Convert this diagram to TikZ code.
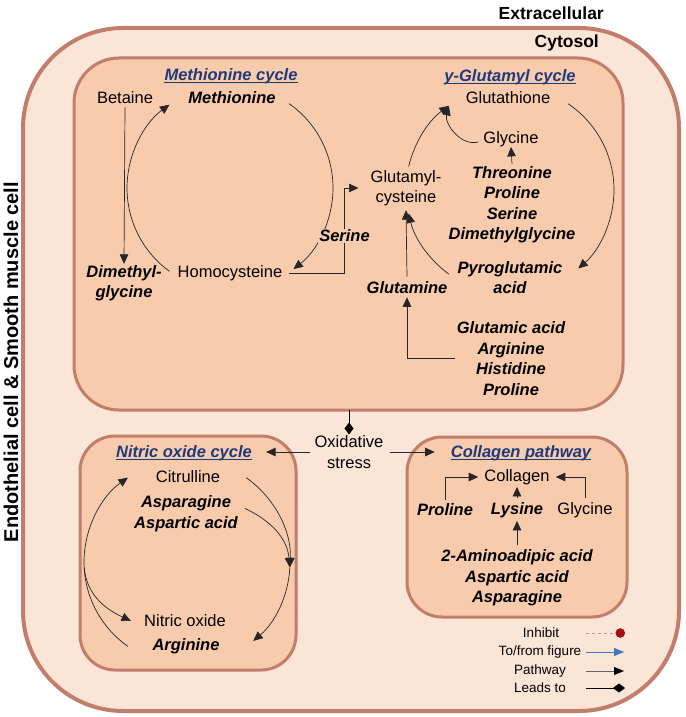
\documentclass[tikz,border=0pt]{standalone}
\usepackage{fontspec}
\setmainfont{Liberation Sans}
\usepackage{xcolor}
\usepackage{tikz}
\usetikzlibrary{arrows.meta, positioning, calc}

\definecolor{cellfill}{HTML}{FBE5D6}
\definecolor{boxfill}{HTML}{F8CBAD}
\definecolor{boxline}{HTML}{C27E6B}
\definecolor{titleblue}{HTML}{1F3A7A}
\definecolor{inhred}{HTML}{A50E0E}
\definecolor{inhdash}{HTML}{D9888A}
\definecolor{figblue}{HTML}{4472C4}

\tikzset{
    txt/.style={inner sep=0pt, align=center, font=\fontsize{16.5}{20.5}\selectfont},
    met/.style={txt, font=\fontsize{16.5}{20.5}\selectfont\bfseries\itshape},
    ttl/.style={inner sep=0pt, text=titleblue, font=\fontsize{16.5}{20.5}\selectfont\bfseries\itshape},
    uline/.style={draw=titleblue, line width=1.2pt},
    room/.style={draw=boxline, line width=3pt, fill=boxfill, rounded corners=45pt},
    flow/.style={draw=black!85, line width=0.7pt, -{Triangle[length=9.5pt,width=8.5pt]}},
    lead/.style={draw=black, line width=0.7pt, -{Diamond[length=12pt,width=9pt]}},
    key/.style={inner sep=0pt, font=\fontsize{13.5}{16}\selectfont},
    zone/.style={inner sep=0pt, font=\fontsize{17.5}{20}\selectfont\bfseries},
}

\begin{document}
\begin{tikzpicture}[x=1pt, y=1pt]
        \useasboundingbox (0,0) rectangle (685,-717);

        \draw[draw=boxline, line width=4pt, fill=cellfill, rounded corners=100pt] (23,-28) rectangle (679,-711);% Cell
        \draw[room] (74,-58) rectangle (623,-410);% Methionine and glutamyl cycles
        \draw[room, rounded corners=35pt] (80,-436) rectangle (296,-670);% Nitric oxide cycle
        \draw[room, rounded corners=35pt] (407,-437) rectangle (627,-617);% Collagen pathway

        \node[zone, anchor=east] (exc) at (604,-13) {Extracellular};
        \node[zone, anchor=east] (cyt) at (599,-43) {Cytosol};
        \node[zone, rotate=90, font=\fontsize{20}{22}\selectfont\bfseries] (cell) at (11,-362) {Endothelial cell \& Smooth muscle cell};

        % Methionine cycle
        \node[ttl] (metT) at (231,-76) {Methionine cycle};
        \node[txt] (bet) at (125,-98) {Betaine};
        \node[met] (meth) at (232,-98) {Methionine};
        \node[met] (dmg) at (124,-283) {Dimethyl-\\glycine};
        \node[txt] (hcy) at (230,-273) {Homocysteine};
        \coordinate (mc) at (230,-188);

        % gamma-glutamyl cycle
        \node[ttl] (gluT) at (510,-77) {y-Glutamyl cycle};
        \node[txt] (gsh) at (508,-98) {Glutathione};
        \node[txt] (gly) at (511,-139) {Glycine};
        \node[met] (gpre) at (512,-204.5) {Threonine\\Proline\\Serine\\Dimethylglycine};
        \node[txt] (gc) at (406,-188) {Glutamyl-\\cysteine};
        \node[met] (pyro) at (510,-277.5) {Pyroglutamic\\acid};
        \node[met] (gln) at (407,-288) {Glutamine};
        \node[met] (gpre2) at (511,-358.5) {Glutamic acid\\Arginine\\Histidine\\Proline};
        \coordinate (gcc) at (510,-190);

        \draw[flow] ([yshift=-3pt]bet.south) -- ([yshift=1pt]dmg.north);
        \draw[flow] ($(mc)+(55:103)$) arc[start angle=55, end angle=-52, radius=103];% Methionine to Homocysteine
        \draw[flow] ($(mc)+(234:103)$) arc[start angle=234, end angle=126, radius=103];% Homocysteine to Methionine
        \draw[flow] ([xshift=7pt]hcy.east) -- ++(55,0) |- node[met, pos=0.22, fill=boxfill, inner sep=1pt] (ser) {Serine} ([xshift=-12pt]gc.west);

        \draw[flow] ($(gcc)+(56:104)$) arc[start angle=56, end angle=-49, radius=104];% Glutathione to Pyroglutamic acid
        \draw[flow] ($(gcc)+(167:104)$) arc[start angle=167, end angle=126, radius=104];
        \draw[flow] ($(gcc)+(234:104)$) arc[start angle=234, end angle=193, radius=104];
        \draw[flow] ([xshift=-5pt,yshift=-3pt]gly.west) to[out=195, in=-105] ($(gcc)+(126:104)$);
        \draw[flow] ([yshift=2pt]gpre.north) -- (gly.south);
        \draw[flow] ([yshift=5pt]gln.north) -- ([yshift=-4pt]gc.south);
        \draw[flow] ([xshift=-2pt]gpre2.west) -| ([yshift=-3pt]gln.south);

        % Oxidative stress
        \node[txt] (ox) at (349,-452) {Oxidative\\stress};
        \coordinate (mb) at (349,-410);
        \draw[lead] (mb) -- ([yshift=1pt]ox.north);

        % Nitric oxide cycle
        \node[ttl] (noT) at (184,-453) {Nitric oxide cycle};
        \node[txt] (cit) at (188,-477) {Citrulline};
        \node[met] (asp) at (186,-513.5) {Asparagine\\Aspartic acid};
        \node[txt] (no) at (185,-621) {Nitric oxide};
        \node[met] (arg) at (186,-646) {Arginine};
        \coordinate (nc) at (187,-562);
        \coordinate (nr) at ($(nc)+(-3:103)$);
        \coordinate (nl) at ($(nc)+(183:103)$);

        \draw[flow] ($(nc)+(55:103)$) arc[start angle=55, end angle=-3, radius=103];% Citrulline
        \draw[flow] (nr) arc[start angle=-3, end angle=-50, radius=103];% to Arginine
        \draw[flow] ([shift={(7pt,5pt)}]asp.east) to[out=-25, in=95] (nr);
        \draw[flow] ($(nc)+(235:103)$) arc[start angle=235, end angle=125, radius=103];% Arginine to Citrulline
        \draw[flow] (nl) to[out=-85, in=155] ([xshift=-13pt]no.west);

        % Collagen pathway
        \node[ttl] (colT) at (521,-453) {Collagen pathway};
        \node[txt] (col) at (517,-477) {Collagen};
        \node[met] (pro) at (445,-510) {Proline};
        \node[met] (lys) at (517,-510) {Lysine};
        \node[txt] (glyc) at (585,-510) {Glycine};
        \node[met] (cpre) at (517,-578) {2-Aminoadipic acid\\Aspartic acid\\Asparagine};

        \draw[flow] ([yshift=4pt]pro.north) |- ([xshift=-6pt]col.west);
        \draw[flow] ([yshift=4pt]glyc.north) |- ([xshift=6pt]col.east);
        \draw[flow] ([yshift=4pt]lys.north) -- ([yshift=-2pt]col.south);
        \draw[flow] ([yshift=5pt]cpre.north) -- ([yshift=-3pt]lys.south);

        \draw[flow] ([xshift=-4pt]ox.west) -- ($(noT.east |- ox.west)+(14,0)$);
        \draw[flow] ([xshift=6pt]ox.east) -- ($(colT.west |- ox.east)+(-16,0)$);

        % title underlines
        \foreach \t in {metT, gluT, noT, colT}
            \draw[uline] ([yshift=-2.5pt]\t.base west) -- ([yshift=-2.5pt]\t.base east);

        % Legend
        \node[key] (k1) at (541,-633) {Inhibit};
        \node[key] (k2) at (540,-652) {To/from figure};
        \node[key] (k3) at (540,-671) {Pathway};
        \node[key] (k4) at (540,-688) {Leads to};
        \coordinate (k1a) at (586,-633); \coordinate (k1b) at (625,-633);
        \coordinate (k2a) at (586,-652); \coordinate (k2b) at (624,-652);
        \coordinate (k3a) at (586,-671); \coordinate (k3b) at (624,-671);
        \coordinate (k4a) at (586,-688); \coordinate (k4b) at (625,-688);

        \draw[inhdash, dashed, line width=0.8pt, -{Circle[length=9.5pt, color=inhred, fill=inhred]}] (k1a) -- (k1b);
        \draw[figblue, line width=0.8pt, -{Triangle[length=10pt,width=8pt]}] (k2a) -- (k2b);
        \draw[black!60, line width=0.8pt, -{Triangle[length=10pt,width=8pt, color=black, fill=black]}] (k3a) -- (k3b);
        \draw[lead] (k4a) -- (k4b);
    \end{tikzpicture}
\end{document}
